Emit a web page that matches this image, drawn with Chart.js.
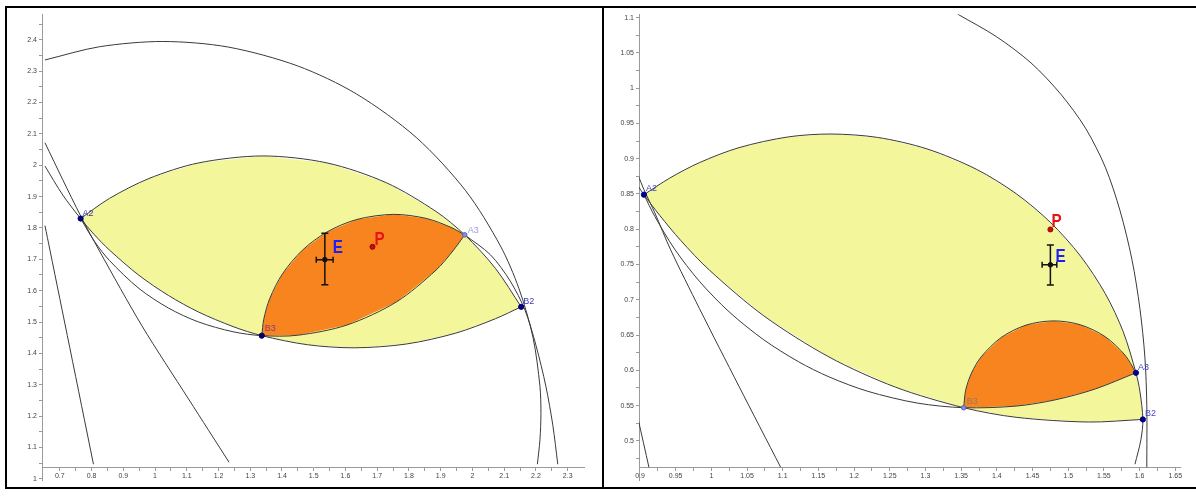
<!DOCTYPE html>
<html>
<head>
<meta charset="utf-8">
<script src="https://cdn.jsdelivr.net/npm/chart.js@4.4.1/dist/chart.umd.min.js"></script>
<style>
body { margin: 0; background: #fff; width: 1196px; height: 497px; position: relative; overflow: hidden; }
.panel { position: absolute; top: 6px; height: 479px; border-top: 2px solid #000; border-bottom: 2px solid #000; border-left: 2px solid #000; }
#p1 { left: 5px; width: 595px; }
#p2 { left: 602px; width: 594px; }
canvas { position: absolute; left: 0; top: 0; }
</style>
</head>
<body>
<div class="panel" id="p1"><canvas id="left" width="583" height="479"></canvas></div>
<div class="panel" id="p2"><canvas id="right" width="582" height="479"></canvas></div>
<script>
// ---------- left view ----------
var xTicksL = [0.7, 0.8, 0.9, 1, 1.1, 1.2, 1.3, 1.4, 1.5, 1.6, 1.7, 1.8, 1.9, 2, 2.1, 2.2, 2.3];
var xMinorL = [0.75, 0.85, 0.95, 1.05, 1.15, 1.25, 1.35, 1.45, 1.55, 1.65, 1.75, 1.85, 1.95, 2.05, 2.15, 2.25];
var yTicksL = [1, 1.1, 1.2, 1.3, 1.4, 1.5, 1.6, 1.7, 1.8, 1.9, 2, 2.1, 2.2, 2.3, 2.4];
var yMinorL = [1.05, 1.15, 1.25, 1.35, 1.45, 1.55, 1.65, 1.75, 1.85, 1.95, 2.05, 2.15, 2.25, 2.35, 2.45];

var yellowTopL = [[0.7655,1.830],[0.8560,1.8939],[0.9807,1.9576],[1.1367,2.0073],[1.3394,2.0296],[1.5421,2.0073],[1.7293,1.9439],[1.8852,1.8526],[1.9757,1.778],[2.0724,1.6712],[2.1535,1.5485]];
var yellowBottomL = [[0.7655,1.830],[0.8092,1.7781],[0.8560,1.7299],[0.9495,1.6488],[1.0431,1.5842],[1.1367,1.5321],[1.2458,1.4855],[1.3363,1.4566],[1.4798,1.4277],[1.6279,1.4178],[1.7917,1.4299],[1.9476,1.4647],[2.0724,1.5106],[2.1535,1.5485]];
var bottomLeadL = [[0.6532,1.9973],[0.7094,1.9048]];
var lowerArcL = [[0.7655,1.830],[0.8092,1.7572],[0.8560,1.6967],[0.9495,1.6069],[1.0431,1.5442],[1.1367,1.5004],[1.2458,1.4690],[1.3363,1.4566]];
var orangeBottomL = [[1.3363,1.4566],[1.4486,1.4578],[1.6045,1.4904],[1.7605,1.5641],[1.8852,1.6653],[1.9382,1.7265],[1.9757,1.778]];
var orangeTopL = [[1.3363,1.4566],[1.3425,1.5085],[1.3612,1.5743],[1.4018,1.6541],[1.4642,1.7290],[1.5421,1.7874],[1.6357,1.8271],[1.7511,1.8433],[1.8540,1.8305],[1.9320,1.8020],[1.9757,1.778]];
var outerArcL = [[0.6532,2.3356],[0.8248,2.3778],[1.0244,2.3946],[1.2302,2.3769],[1.4486,2.3169],[1.6357,2.2266],[1.8228,2.0887],[1.9788,1.9184],[2.0880,1.7430],[2.1469,1.6057],[2.1909,1.4504],[2.2127,1.2951],[2.2158,1.2081],[2.2127,1.1242],[2.2046,1.0466]];
var tailArcL = [[1.9757,1.778],[2.0568,1.7144],[2.1192,1.6305],[2.1659,1.5373],[2.2002,1.4255],[2.2314,1.2951],[2.2533,1.1708],[2.2689,1.0466]];
var lineOneL = [[0.6532,2.0716],[0.7094,1.9535],[0.7655,1.8386],[0.8248,1.7268],[0.9589,1.4876],[1.1055,1.2547],[1.2333,1.0528]];
var lineThreeL = [[0.6532,1.8076],[0.6688,1.7299],[0.7,1.5746],[0.7312,1.4193],[0.7686,1.2330],[0.8060,1.0466]];

var namesL = ['A2', 'B2', 'A3', 'B3'];
var namedL = [[0.7655,1.830],[2.1535,1.5485],[1.9757,1.778],[1.3363,1.4566]];
var pointPL = [1.685, 1.740];
var pointEL = [1.535, 1.699];
var errYL = [1.619, 1.783];
var errXL = [1.508, 1.561];

// ---------- right view ----------
var xTicksR = [0.9, 0.95, 1, 1.05, 1.1, 1.15, 1.2, 1.25, 1.3, 1.35, 1.4, 1.45, 1.5, 1.55, 1.6, 1.65];
var xMinorR = [0.925, 0.975, 1.025, 1.075, 1.125, 1.175, 1.225, 1.275, 1.325, 1.375, 1.425, 1.475, 1.525, 1.575, 1.625];
var yTicksR = [0.5, 0.55, 0.6, 0.65, 0.7, 0.75, 0.8, 0.85, 0.9, 0.95, 1, 1.05, 1.1];
var yMinorR = [0.475, 0.525, 0.575, 0.625, 0.675, 0.725, 0.775, 0.825, 0.875, 0.925, 0.975, 1.025, 1.075];

var yellowTopR = [[0.9055,0.849],[0.9416,0.8725],[0.9832,0.8944],[1.0387,0.9157],[1.1081,0.9310],[1.1677,0.9350],[1.2329,0.9302],[1.3022,0.9139],[1.3716,0.8849],[1.4271,0.8504],[1.4756,0.8092],[1.5172,0.7620],[1.5519,0.7087],[1.5769,0.6551],[1.5949,0.5965],[1.6004,0.5704],[1.6046,0.5304]];
var tailArcR = [[1.6046,0.5304],[1.6018,0.5014],[1.5935,0.4669]];
var yellowBottomR = [[0.9055,0.849],[0.9277,0.8196],[0.9569,0.7843],[0.9971,0.7422],[1.0734,0.6773],[1.1649,0.6189],[1.2578,0.5762],[1.3535,0.5470],[1.4271,0.5334],[1.5283,0.5267],[1.6046,0.5304]];
var bottomLeadR = [[0.8972,0.8615]];
var lowerArcR = [[0.9055,0.849],[0.9208,0.8182],[0.9485,0.7719],[0.9832,0.7263],[1.0248,0.6830],[1.0734,0.6433],[1.1219,0.6123],[1.1649,0.5907],[1.2190,0.5703],[1.2884,0.5536],[1.3535,0.5470]];
var orangeBottomR = [[1.3535,0.5470],[1.4271,0.5493],[1.4825,0.5583],[1.5380,0.5736],[1.5949,0.5965]];
var orangeTopR = [[1.3535,0.5470],[1.3563,0.5717],[1.3646,0.5964],[1.3785,0.6197],[1.4063,0.6467],[1.4409,0.6641],[1.4798,0.6701],[1.5172,0.6645],[1.5519,0.6476],[1.5796,0.6215],[1.5949,0.5965]];
var outerArcR = [[1.3452,1.1049],[1.3993,1.0731],[1.4479,1.0358],[1.4895,0.9916],[1.5242,0.9433],[1.5519,0.8881],[1.5727,0.8259],[1.5893,0.7569],[1.6004,0.6878],[1.6074,0.6188],[1.6101,0.5497],[1.6101,0.4627]];
var lineOneR = [[0.8972,0.8770],[0.9055,0.8563],[0.9208,0.8232],[0.9430,0.7707],[0.9832,0.6878],[1.0387,0.5773],[1.0970,0.4627]];
var lineThreeR = [[0.8972,0.5318],[0.9125,0.4627]];

var namesR = ['A2', 'B2', 'A3', 'B3'];
var namedR = [[0.9055,0.849],[1.6046,0.5304],[1.5949,0.5965],[1.3535,0.5470]];
var pointPR = [1.475, 0.7997];
var pointER = [1.475, 0.7496];
var errYR = [0.721, 0.7776];
var errXR = [1.4634, 1.484];

Chart.defaults.font.family = '"Liberation Sans", Arial, sans-serif';

function xy(a) {
  return a.map(function (p) { return {x: p[0], y: p[1]}; });
}

function curve(a) {
  return {data: xy(a), showLine: true, fill: false, borderColor: '#3a3a3a', borderWidth: 1,
    pointRadius: 0, tension: 0.3, order: 5};
}

function area(a, color, order) {
  return {data: xy(a), showLine: true, fill: 'shape', backgroundColor: color, borderWidth: 0,
    borderColor: 'rgba(0,0,0,0)', pointRadius: 0, tension: 0, order: order};
}

function errorBars(e, ex, ey) {
  return [
    {data: xy([[e[0], ey[0]], [e[0], ey[1]]]), showLine: true, borderColor: '#111', borderWidth: 1.5,
      pointStyle: 'line', pointRadius: 3.5, pointBorderWidth: 1.5, pointBorderColor: '#111', order: 2},
    {data: xy([[ex[0], e[1]], [ex[1], e[1]]]), showLine: true, borderColor: '#111', borderWidth: 1.5,
      pointStyle: 'line', pointRotation: 90, pointRadius: 3, pointBorderWidth: 1.5, pointBorderColor: '#111', order: 2},
    {data: xy([e]), pointRadius: 2.3, pointBackgroundColor: '#111', pointBorderColor: '#111', order: 1}
  ];
}

function axis(min, max, at, majors, minors, room) {
  return {
    type: 'linear', min: min, max: max, bounds: 'data',
    position: at,
    afterFit: function (s) { if (s.isHorizontal()) { s.height = 0; } else { s.width = room; } },
    afterBuildTicks: function (s) {
      s.ticks = majors.concat(minors).sort(function (a, b) { return a - b; })
        .map(function (v) { return {value: v}; });
    },
    ticks: {autoSkip: false, maxRotation: 0, minRotation: 0, padding: 2, color: '#444',
      font: {size: 7},
      callback: function (v) { return majors.indexOf(v) >= 0 ? String(v) : ''; }},
    grid: {drawOnChartArea: false, drawTicks: true, tickLength: 3, tickColor: '#9a9a9a'},
    border: {display: true, color: '#9a9a9a', width: 1}
  };
}

// text labels next to points, placed with the chart's own scales
function names(items) {
  return {
    id: 'names',
    afterDatasetsDraw: function (chart) {
      var ctx = chart.ctx, sx = chart.scales.x, sy = chart.scales.y;
      items.forEach(function (it) {
        var px = sx.getPixelForValue(it.at[0]) + it.dx;
        var py = sy.getPixelForValue(it.at[1]) + it.dy;
        ctx.save();
        ctx.translate(px, py);
        ctx.scale(it.sx || 1, 1);
        ctx.font = it.font || '9px "Liberation Sans", Arial, sans-serif';
        ctx.fillStyle = it.color;
        ctx.textAlign = 'left';
        ctx.textBaseline = 'alphabetic';
        ctx.fillText(it.text, 0, 0);
        ctx.restore();
      });
    }
  };
}

var big = 'bold 19px "Liberation Sans", Arial, sans-serif';

// left chart
var leftSets = [
  area(yellowTopL.concat(yellowBottomL.slice(1, -1).reverse()), '#f3f69a', 11),
  area(orangeTopL.concat(orangeBottomL.slice(1, -1).reverse()), '#f7841f', 10),
  curve(outerArcL), curve(tailArcL), curve(yellowTopL), curve(bottomLeadL.concat(yellowBottomL)),
  curve(lowerArcL.concat(orangeBottomL.slice(1))), curve(orangeTopL),
  curve(lineOneL), curve(lineThreeL),
  {data: xy(namedL), pointRadius: [2.6, 2.6, 2.3, 2.6],
    pointBackgroundColor: ['#00007a', '#00007a', '#7f8fdc', '#00006a'],
    pointBorderColor: ['#00007a', '#00007a', '#5a6ac0', '#00006a'], order: 1},
  {data: xy([pointPL]), pointRadius: 2.5, pointBackgroundColor: '#c01010', pointBorderColor: '#a00000', order: 1}
].concat(errorBars(pointEL, errXL, errYL));

new Chart(document.getElementById('left'), {
  type: 'scatter',
  data: {datasets: leftSets},
  options: {
    responsive: false, animation: false, events: [],
    layout: {padding: 0},
    plugins: {legend: {display: false}, tooltip: {enabled: false}},
    scales: {
      x: axis(0.64386, 2.35307, {y: 1.0373}, xTicksL, xMinorL, 0),
      y: Object.assign(axis(0.99379, 2.48156, 'left', yTicksL, yMinorL, 35))
    }
  },
  plugins: [names([
    {text: namesL[0], at: namedL[0], dx: 2, dy: -3, color: '#3b3bb0'},
    {text: namesL[1], at: namedL[1], dx: 2, dy: -3, color: '#3b3bb0'},
    {text: namesL[2], at: namedL[2], dx: 3, dy: -2, color: '#9c9ce6'},
    {text: namesL[3], at: namedL[3], dx: 3, dy: -5, color: '#8a3c78'},
    {text: 'E', at: pointEL, dx: 8, dy: -7, color: '#1e1ef5', font: big, sx: 0.8},
    {text: 'P', at: pointPL, dx: 2, dy: -2, color: '#e81414', font: big, sx: 0.8}
  ])]
});

// right chart
var rightSets = [
  area(yellowTopR.concat(yellowBottomR.slice(1, -1).reverse()), '#f3f69a', 11),
  area(orangeTopR.concat(orangeBottomR.slice(1, -1).reverse()), '#f7841f', 10),
  curve(outerArcR), curve(yellowTopR.concat(tailArcR.slice(1))), curve(bottomLeadR.concat(yellowBottomR)),
  curve(lowerArcR.concat(orangeBottomR.slice(1))), curve(orangeTopR),
  curve(lineOneR), curve(lineThreeR),
  {data: xy(namedR), pointRadius: [2.6, 2.6, 2.6, 2.3],
    pointBackgroundColor: ['#00008a', '#00008a', '#00008a', '#8090d8'],
    pointBorderColor: ['#00008a', '#00008a', '#00008a', '#5a6ac0'], order: 1},
  {data: xy([pointPR]), pointRadius: 2.5, pointBackgroundColor: '#c01010', pointBorderColor: '#a00000', order: 1}
].concat(errorBars(pointER, errXR, errYR));

new Chart(document.getElementById('right'), {
  type: 'scatter',
  data: {datasets: rightSets},
  options: {
    responsive: false, animation: false, events: [],
    layout: {padding: 0},
    plugins: {legend: {display: false}, tooltip: {enabled: false}},
    scales: {
      x: axis(0.89861, 1.65730, {y: 0.46271}, xTicksR, xMinorR, 0),
      y: axis(0.44338, 1.10488, 'left', yTicksR, yMinorR, 35)
    }
  },
  plugins: [names([
    {text: namesR[0], at: namedR[0], dx: 2, dy: -4, color: '#4444cc'},
    {text: namesR[1], at: namedR[1], dx: 2, dy: -3, color: '#4444cc'},
    {text: namesR[2], at: namedR[2], dx: 2, dy: -3, color: '#4444cc'},
    {text: namesR[3], at: namedR[3], dx: 3, dy: -4, color: '#9a7a5a'},
    {text: 'E', at: pointER, dx: 5, dy: -3, color: '#1e1ef5', font: big, sx: 0.8},
    {text: 'P', at: pointPR, dx: 1, dy: -2, color: '#e81414', font: big, sx: 0.8}
  ])]
});
</script>
</body>
</html>
